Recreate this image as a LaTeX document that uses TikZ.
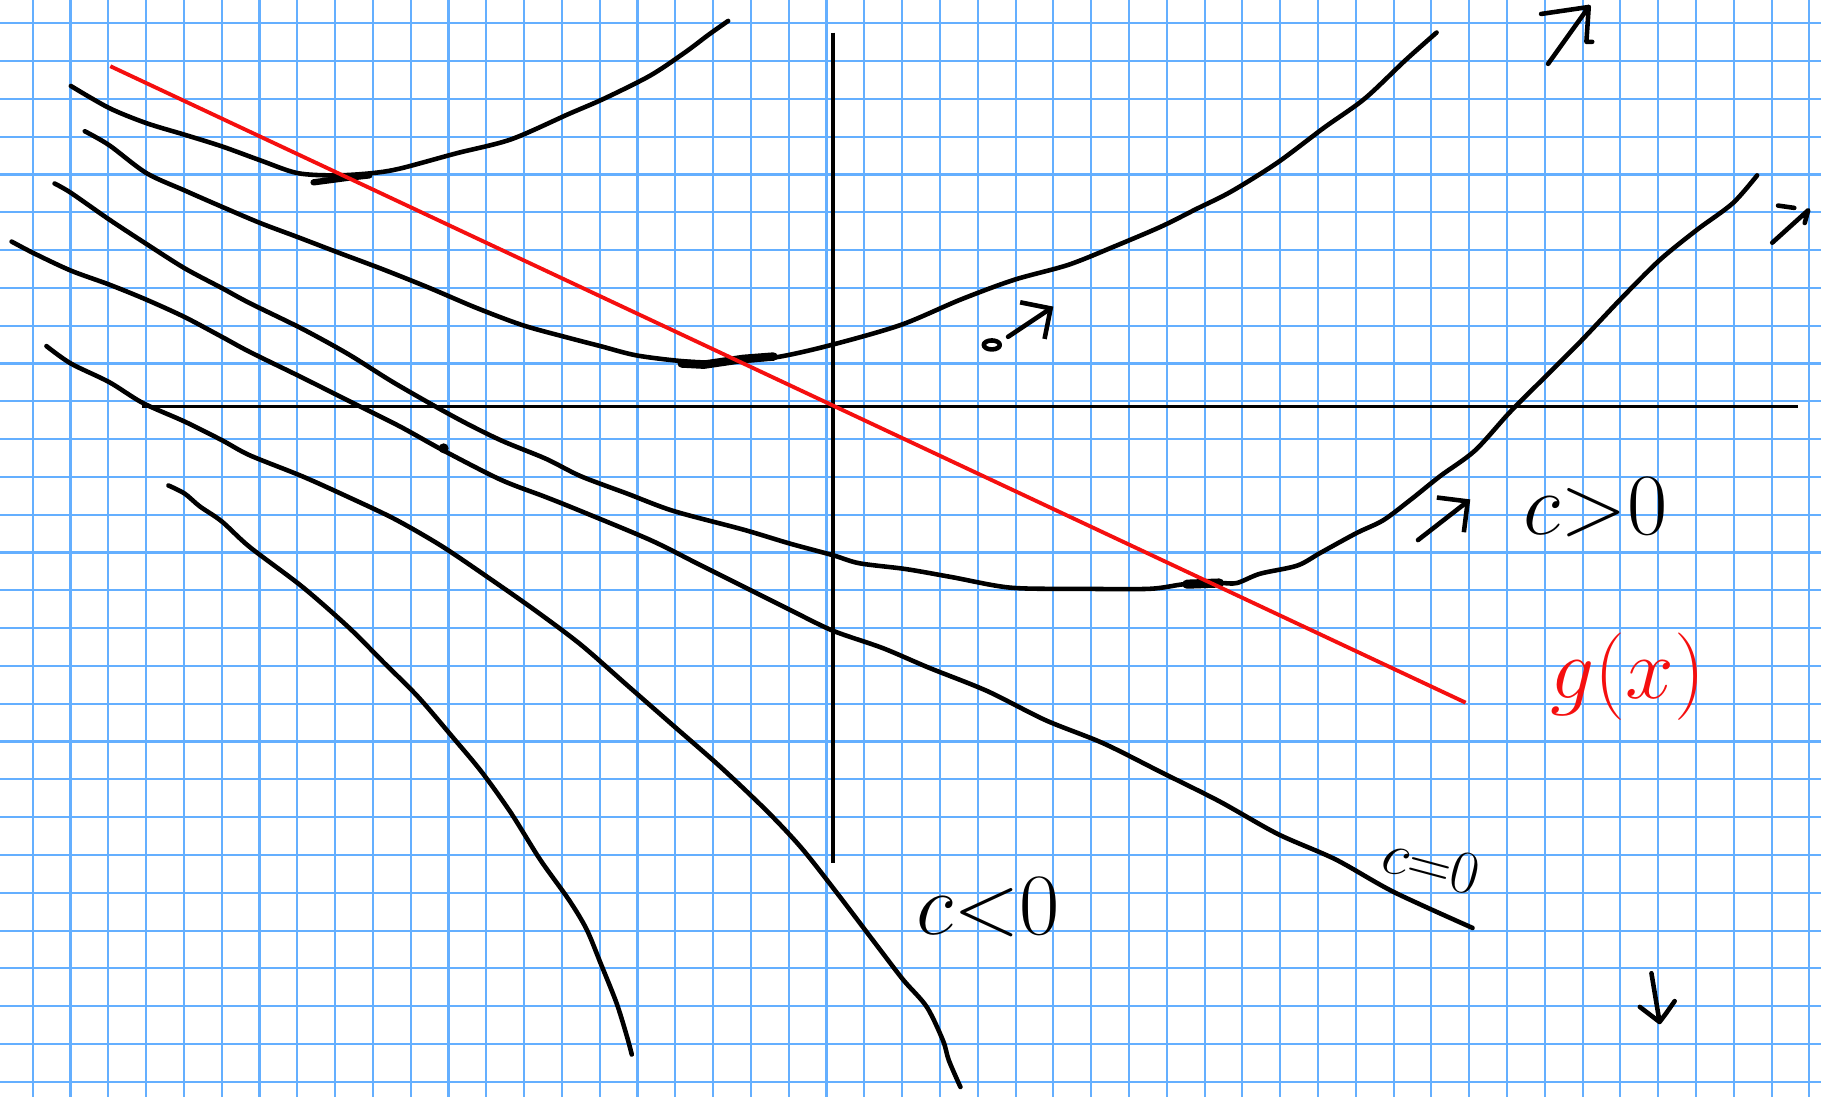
\documentclass[tikz,border=0pt]{standalone}
\usetikzlibrary{arrows.meta}
\definecolor{gridblue}{RGB}{100,175,255}
\definecolor{penred}{RGB}{245,15,15}

\begin{document}
\begin{tikzpicture}[
    x=0.011614cm, y=-0.011614cm,
    paper/.style={gridblue, line width=0.6pt},
    pen/.style={black, line width=1.3pt, line cap=round, line join=round},
    redpen/.style={penred, line width=1.1pt},
    axis/.style={black, line width=1.1pt},
    hint/.style={pen, -{Straight Barb[length=2.2mm, width=4.4mm]}},
    hand/.style={font=\Huge, inner sep=0pt},
]
\useasboundingbox (0,0) rectangle (1568,945);
\fill[white] (0,0) rectangle (1568,945);
\foreach \k in {0,...,47} \draw[paper] ({28.16+32.55*\k},0) -- ({28.16+32.55*\k},945);
\foreach \k in {0,...,28} \draw[paper] (0,{20.06+32.55*\k}) -- (1568,{20.06+32.55*\k});

\draw[axis] (122,350) -- (1548,350);
\draw[axis] (717,28) -- (717,743);

\draw[pen] plot[smooth, tension=0.5] coordinates {(61,74) (94,93) (126,106) (159,116) (191,126) (224,138) (256,149) (289,151) (321,149) (345,145) (393,132) (440,120) (490,98) (520,85) (560,65) (590,45) (610,30) (627,18)};
\draw[pen, line width=1.8pt] (270,157) -- (300,153) -- (318,151);

\draw[pen] plot[smooth, tension=0.5] coordinates {(73,113) (94,125) (126,149) (159,164) (191,178) (224,192) (256,204) (290,217) (330,232) (370,248) (410,265) (450,280) (490,291) (517,298) (548,306) (588,311) (620,312) (666,308) (712,298) (775,280) (827,258) (873,241) (920,228) (960,212) (1000,195) (1030,180) (1060,165) (1100,140) (1140,110) (1175,85) (1210,52) (1237,28)};
\draw[pen, line width=2.4pt] (587,313) -- (606,314) -- (640,309) -- (666,307);

\draw[pen] plot[smooth, tension=0.5] coordinates {(47,158) (61,166) (94,189) (126,210) (159,231) (191,248) (215,261) (260,283) (300,305) (340,330) (393,360) (431,379) (470,395) (500,410) (540,425) (580,440) (640,456) (680,468) (717,478) (740,485) (780,490) (820,497) (870,506) (930,507) (990,507) (1020,503) (1050,502) (1065,502) (1085,494) (1117,487) (1137,476) (1168,459) (1191,448) (1215,430) (1240,410) (1270,388) (1300,355) (1330,325) (1360,295) (1396,257) (1429,224) (1461,198) (1492,175) (1513,151)};
\draw[pen, line width=2.6pt] (1022,503) -- (1050,502);

\draw[pen] plot[smooth, tension=0.5] coordinates {(10,208) (29,218) (61,233) (94,245) (126,258) (159,273) (191,290) (215,303) (260,325) (300,345) (344,367) (382,388) (431,413) (470,428) (500,440) (560,465) (600,485) (640,505) (680,525) (717,543) (760,558) (800,575) (850,595) (900,620) (950,640) (1000,665) (1050,690) (1100,718) (1150,740) (1200,768) (1268,799)};
\fill (382,386) circle (0.5mm);

\draw[pen] plot[smooth, tension=0.5] coordinates {(40,298) (61,313) (94,329) (123,347) (159,363) (191,379) (215,392) (260,410) (300,428) (340,447) (380,470) (420,497) (460,525) (500,555) (540,590) (580,625) (620,660) (660,698) (690,730) (720,768) (758,818) (778,844) (798,867) (812,896) (817,913) (827,936)};

\draw[pen] plot[smooth, tension=0.5] coordinates {(145,418) (159,425) (172,436) (191,449) (215,471) (260,505) (300,540) (330,570) (360,600) (390,635) (415,665) (440,700) (465,740) (490,775) (505,800) (517,829) (531,864) (540,893) (544,908)};

\draw[redpen] (95,57) -- (1262,605);

\draw[pen] (854,297) ellipse [x radius=0.8mm, y radius=0.45mm];
\draw[hint] (868,290) -- (907,264);
\draw[hint] (1221,465) -- (1266,430);
\draw[pen] (1327,12) -- (1368,6) -- (1333,55);
\draw[pen] (1368,6) -- (1366,36) -- (1371,36);
\draw[pen] (1531,177) -- (1545,179);
\draw[pen] (1526,209) -- (1557,181) -- (1554,192);
\draw[pen] (1422,838) -- (1429,880) -- (1412,867);
\draw[pen] (1429,880) -- (1435,872) -- (1442,862);

\node[hand] (cpos) at (1374,437) {$c{>}0$};
\node[hand, font=\LARGE, rotate=-15] (czero) at (1233,744) {$c{=}0$};
\node[hand] (cneg) at (851,781) {$c{<}0$};
\node[hand, text=penred] (gx) at (1402,583) {$g(x)$};
\end{tikzpicture}
\end{document}
